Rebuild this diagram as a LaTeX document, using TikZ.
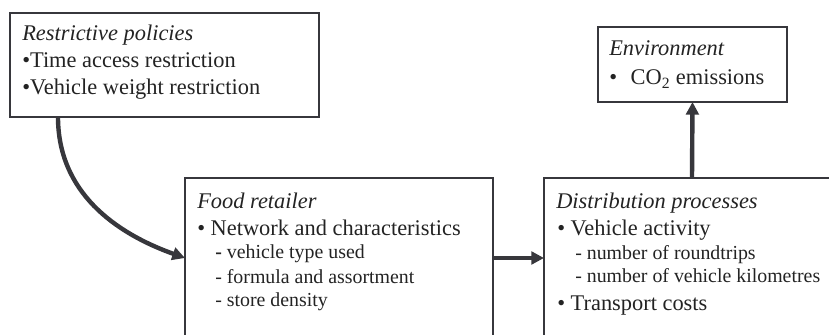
\documentclass[tikz,border=0pt]{standalone}
\usepackage{fontspec}
\setmainfont{Liberation Serif}
\usetikzlibrary{arrows.meta,calc}
\definecolor{linecol}{RGB}{55,55,60}
\definecolor{txtcol}{RGB}{35,35,35}
\begin{document}
\begin{tikzpicture}[x=0.75pt,y=-0.75pt,
  box/.style={draw=linecol,line width=2pt,rectangle,inner sep=0pt,outer sep=0pt},
  arr/.style={draw=linecol,line width=3.3pt,-{Triangle[length=9.5pt,width=9.5pt]}},
  main/.style={anchor=base west,inner sep=0pt,text=txtcol,font=\fontsize{16.8}{20}\selectfont},
  subl/.style={anchor=base west,inner sep=0pt,text=txtcol,font=\fontsize{14.9}{18}\selectfont}]
\useasboundingbox (0,0) rectangle (829,335);
\clip (0,0) rectangle (829,335);
% boxes
\node[box,minimum width=231.75pt,minimum height=78pt] (pol) at (164.5,65) {};
\node[box,minimum width=141.75pt,minimum height=56.25pt] (env) at (692.5,64.5) {};
\node[box,minimum width=231pt,minimum height=120pt] (food) at (339,258) {};
\node[box,minimum width=222pt,minimum height=120pt] (dist) at (692,258) {};
% connectors
\draw[arr] ($(pol.south west)+(48,0)$) .. controls +(0,75) and +(-70,-25) .. (food.west);
\draw[arr] (food.east) -- (dist.west);
\draw[arr] (dist.north) -- (env.south);
% texts: restrictive policies
\node[main] (polT) at (22,41) {\itshape Restrictive policies};
\node[main] (polA) at (22,68) {•Time access restriction};
\node[main] (polB) at (22,95) {•Vehicle weight restriction};
% environment
\node[main] (envT) at (609,56) {\itshape Environment};
\node[main] (envA) at (609,85) {•\hspace{10.2pt}CO\textsubscript{2} emissions};
% food retailer
\node[main] (foodT) at (197,208) {\itshape Food retailer};
\node[main] (foodA) at (197,235) {• Network and characteristics};
\node[subl] (foodB) at (215,258.5) {\textbf{-} vehicle type used};
\node[subl] (foodC) at (215,283.5) {- formula and assortment};
\node[subl] (foodD) at (215,306.5) {- store density};
% distribution processes
\node[main] (distT) at (556,208) {\itshape Distribution processes};
\node[main] (distA) at (557,235) {• Vehicle activity};
\node[subl] (distB) at (575,259.5) {- number of roundtrips};
\node[subl] (distC) at (575,282.5) {- number of vehicle kilometres};
\node[main] (distD) at (557,310) {• Transport costs};
\end{tikzpicture}
\end{document}
